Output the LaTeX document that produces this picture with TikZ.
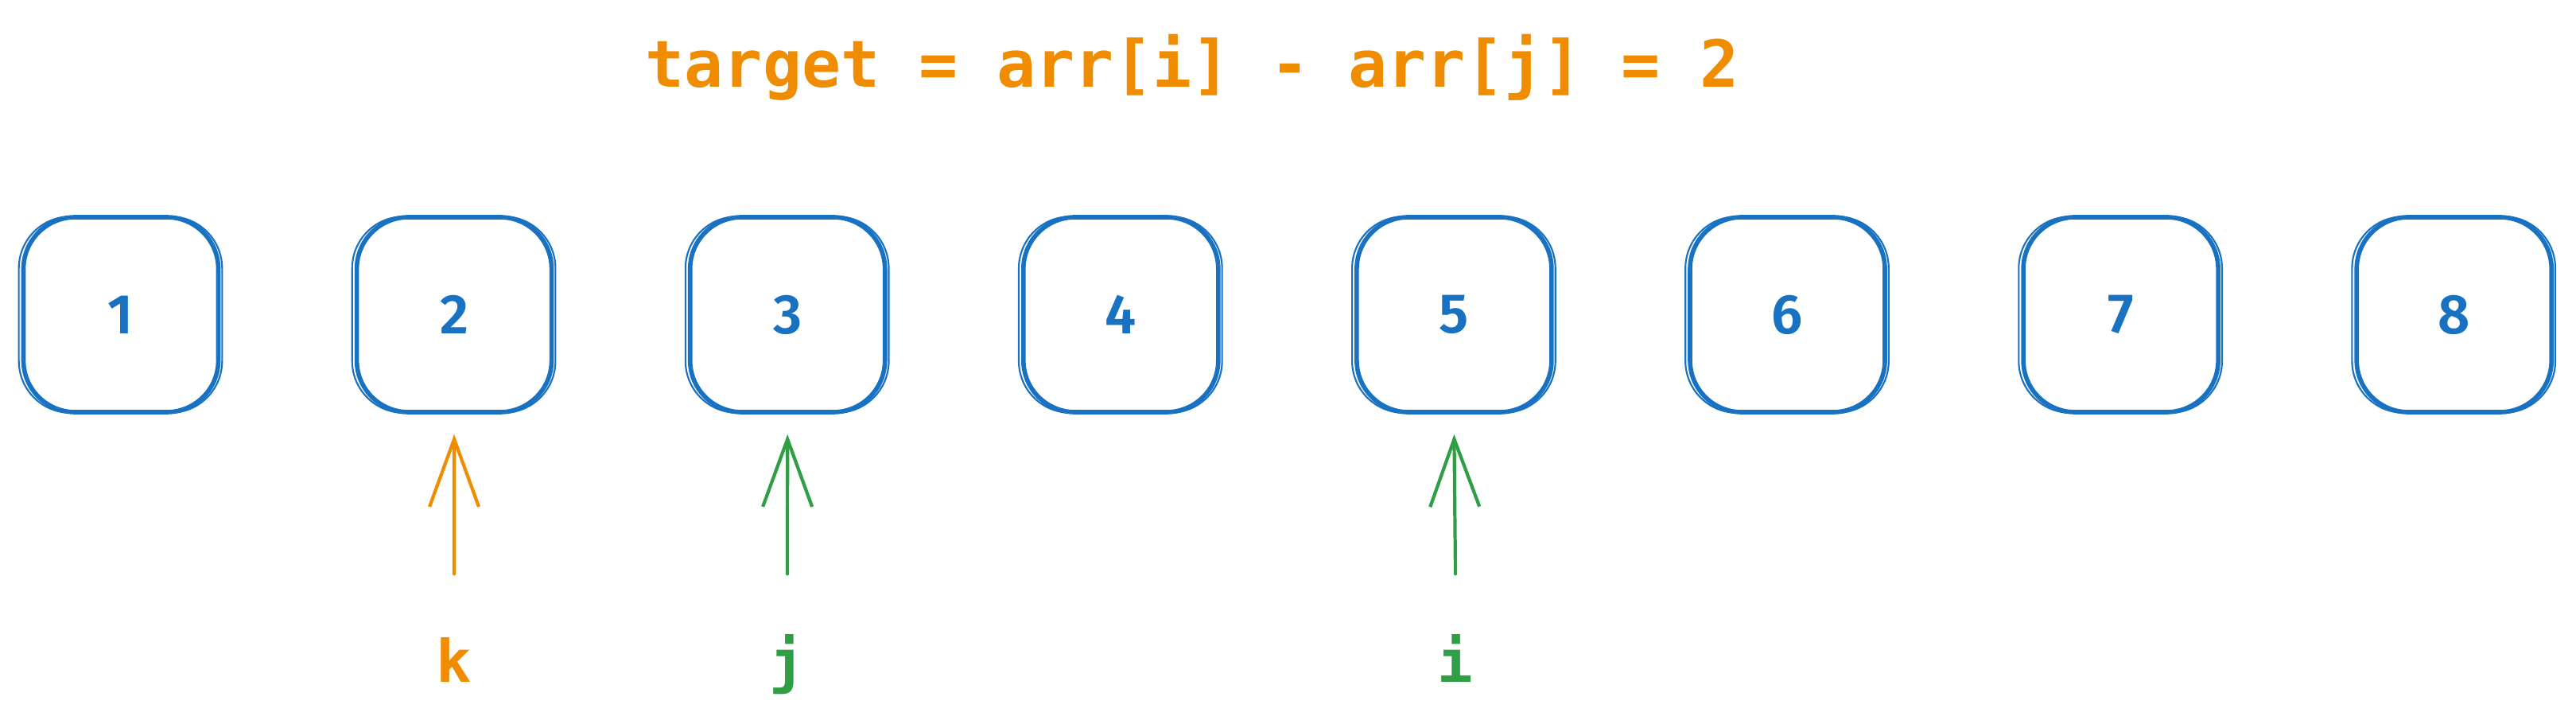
\documentclass[tikz,border=0pt]{standalone}
\usepackage{fontspec}
\setmonofont{DejaVu Sans Mono}
\newfontfamily\digitfont{Fira Sans SemiBold}
\usetikzlibrary{arrows.meta}
\definecolor{exblue}{HTML}{1971C2}
\definecolor{exorange}{HTML}{F08C00}
\definecolor{exgreen}{HTML}{2F9E44}
\tikzset{
  cell/.style={draw=exblue, line width=1.6pt, rounded corners=0.65cm,
    minimum width=2.45cm, minimum height=2.45cm, inner sep=0pt,
    text=exblue, font=\digitfont\fontsize{20}{20}\selectfont},
  sketchline/.style={draw=exblue, line width=0.6pt, rounded corners=0.65cm},
  ptr/.style={line width=1.2pt, line cap=round,
    -{Straight Barb[length=0.85cm, width=0.62cm, line width=1.2pt]}},
  lbl/.style={font=\ttfamily\bfseries\fontsize{21}{21}\selectfont, anchor=base,
    inner sep=0pt, text height=0.6cm, text depth=0.2cm},
}
\begin{document}
\begin{tikzpicture}
\useasboundingbox (0,0) rectangle (32.39,-9.10);
\node[font=\ttfamily\bfseries\fontsize{23.2}{24}\selectfont, text=exorange, anchor=base]
  (title) at (14.99,-1.10) {target = arr[i] - arr[j] = 2};
\foreach \n in {1,...,8} {
  \node[cell] (b\n) at ({1.52+4.191*(\n-1)}, -3.955) {\n};
  \draw[sketchline] ([shift={(-0.03,0.02)}]b\n.south west) rectangle ([shift={(0.02,-0.02)}]b\n.north east);
}
\node[lbl, text=exorange] (k) at (5.71,-8.57) {k};
\node[lbl, text=exgreen] (j) at (9.90,-8.57) {j};
\node[lbl, text=exgreen] (i) at (18.30,-8.57) {i};
\draw[ptr, exorange] ([yshift=0.75cm]k.north) -- ([yshift=-0.25cm]b2.south);
\draw[ptr, exgreen] ([yshift=0.75cm]j.north) -- ([yshift=-0.25cm]b3.south);
\draw[ptr, exgreen] ([yshift=0.75cm]i.north) -- ([yshift=-0.25cm]b5.south);
\end{tikzpicture}
\end{document}
